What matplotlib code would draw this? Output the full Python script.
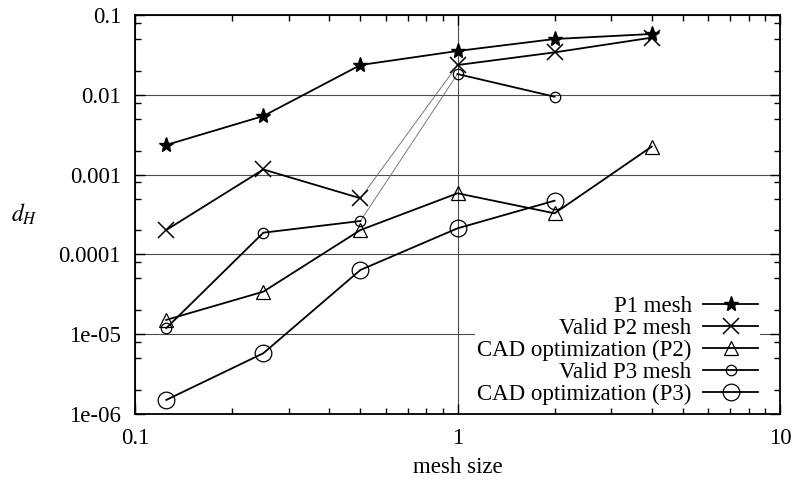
import numpy as np
import matplotlib
matplotlib.use('Agg')
import matplotlib.pyplot as plt
from matplotlib.ticker import LogLocator, NullFormatter, FixedLocator, FixedFormatter

plt.rcParams['font.family'] = ['Liberation Serif', 'DejaVu Serif']
plt.rcParams['mathtext.fontset'] = 'stix'

# mesh sizes
h = [0.125, 0.25, 0.5, 1, 2, 4]
h_p3 = [0.125, 0.25, 0.5, 1, 2]

# Hausdorff distances
p1_mesh = [0.00235, 0.00542, 0.0236, 0.0354, 0.050, 0.0578]
valid_p2 = [2.02e-4, 1.16e-3, 5.05e-4, 0.0236, 0.034, 0.052]
cad_p2 = [1.51e-5, 3.41e-5, 2.02e-4, 5.83e-4, 3.27e-4, 2.24e-3]
valid_p3 = [1.19e-5, 1.87e-4, 2.62e-4, 0.0182, 0.00946]
cad_p3 = [1.50e-6, 5.77e-6, 6.38e-5, 2.12e-4, 4.71e-4]

labels = ['P1 mesh', 'Valid P2 mesh', 'CAD optimization (P2)',
          'Valid P3 mesh', 'CAD optimization (P3)']

yticks = [1e-6, 1e-5, 1e-4, 1e-3, 1e-2, 1e-1]
ytick_labels = ['1e-06', '1e-05', '0.0001', '0.001', '0.01', '0.1']
xticks = [0.1, 1, 10]
xtick_labels = ['0.1', '1', '10']

fs = 16.5

fig = plt.figure(figsize=(7.96, 4.82), dpi=100)
ax = fig.add_axes([0.1696, 0.1411, 0.8103, 0.8278])
ax.set_xscale('log')
ax.set_yscale('log')
ax.set_xlim(0.1, 10)
ax.set_ylim(1e-6, 0.1)

lw = 1.3
k = 'black'
# thin connecting pieces between h=0.5 and h=1
ax.plot(h[2:4], valid_p2[2:4], color='0.4', lw=0.6, zorder=2)
ax.plot(h_p3[2:4], valid_p3[2:4], color='0.4', lw=0.6, zorder=2)

ax.plot(h, p1_mesh, color=k, lw=lw, marker='*', ms=11, mfc=k, mec=k, label=labels[0], zorder=3)

ax.plot(h[:3], valid_p2[:3], color=k, lw=lw, marker='x', ms=11, mew=1.1, zorder=3)
ax.plot(h[3:], valid_p2[3:], color=k, lw=lw, marker='x', ms=11, mew=1.1, zorder=3)
ax.plot([], [], color=k, lw=lw, marker='x', ms=11, mew=1.1, label=labels[1])

ax.plot(h, cad_p2, color=k, lw=lw, marker='^', ms=10, mfc='none', mec=k, mew=0.9,
        label=labels[2], zorder=3)

ax.plot(h_p3[:3], valid_p3[:3], color=k, lw=lw, marker='o', ms=7.5, mfc='none', mec=k, mew=0.9, zorder=3)
ax.plot(h_p3[3:], valid_p3[3:], color=k, lw=lw, marker='o', ms=7.5, mfc='none', mec=k, mew=0.9, zorder=3)
ax.plot([], [], color=k, lw=lw, marker='o', ms=7.5, mfc='none', mec=k, mew=0.9, label=labels[3])

ax.plot(h_p3, cad_p3, color=k, lw=lw, marker='o', ms=12, mfc='none', mec=k, mew=0.9,
        label=labels[4], zorder=3)

ax.grid(True, which='major', color='0.3', lw=0.8)
ax.set_axisbelow(True)

ax.xaxis.set_major_locator(FixedLocator(xticks))
ax.xaxis.set_major_formatter(FixedFormatter(xtick_labels))
ax.xaxis.set_minor_locator(LogLocator(base=10, subs=np.arange(2, 10), numticks=20))
ax.xaxis.set_minor_formatter(NullFormatter())
ax.yaxis.set_major_locator(FixedLocator(yticks))
ax.yaxis.set_major_formatter(FixedFormatter(ytick_labels))
ax.yaxis.set_minor_locator(LogLocator(base=10, subs=[2, 5, 8], numticks=20))
ax.yaxis.set_minor_formatter(NullFormatter())

ax.tick_params(which='both', direction='in', top=True, right=True, labelsize=fs, width=1)
ax.tick_params(which='major', length=7, pad=10)
ax.tick_params(which='minor', length=4)
for s in ax.spines.values():
    s.set_linewidth(1.3)

ax.set_xlabel('mesh size', fontsize=fs, labelpad=6)
ax.set_ylabel('$d_H$', fontsize=17, rotation=0, va='center')
ax.yaxis.set_label_coords(-0.172, 0.5)

leg = ax.legend(loc='lower right', markerfirst=False, fontsize=fs, frameon=True,
                fancybox=False, framealpha=1, edgecolor='none', handlelength=2.4,
                labelspacing=0.035, borderpad=0.1, handletextpad=0.5,
                bbox_to_anchor=(0.9875, -0.011))
leg.set_zorder(5)

fig.savefig('out.png', dpi=100)
